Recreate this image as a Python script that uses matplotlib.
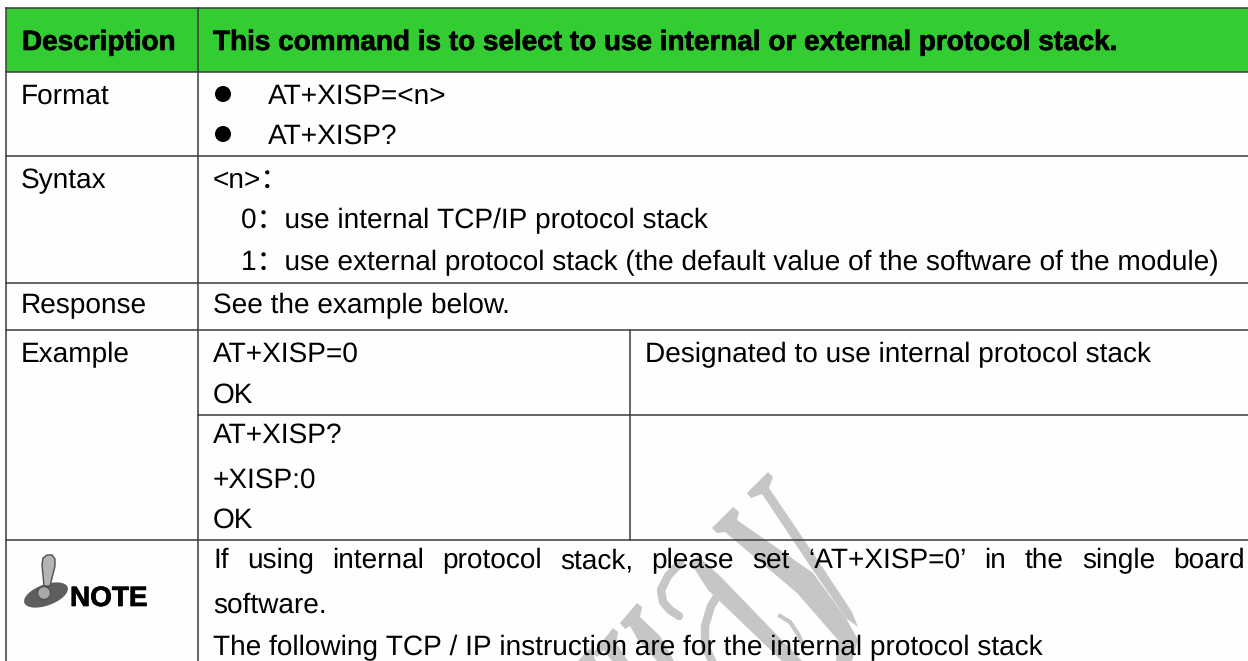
import matplotlib
matplotlib.use("Agg")
import matplotlib.pyplot as plt
import matplotlib.patheffects as pe
from matplotlib.patches import Ellipse, Circle, Polygon

plt.rcParams['font.family'] = ['Liberation Sans', 'Noto Sans CJK SC', 'DejaVu Sans']
plt.rcParams['text.hinting'] = 'no_hinting'
plt.rcParams['text.hinting_factor'] = 1

# table text
header_left = "Description"
header_right = "This command is to select to use internal or external protocol stack."
row_labels = ["Format", "Syntax", "Response", "Example"]
format_lines = ["AT+XISP=<n>", "AT+XISP?"]
syntax_lines = ["<n>：", "0：use internal TCP/IP protocol stack",
                "1：use external protocol stack (the default value of the software of the module)"]
response_line = "See the example below."
example_left = ["AT+XISP=0", "OK", "AT+XISP?", "+XISP:0", "OK"]
example_right = "Designated to use internal protocol stack"
note_label = "NOTE"
note_justified = "If using internal protocol stack, please set ‘AT+XISP=0’ in the single board"
note_lines = ["software.", "The following TCP / IP instruction are for the internal protocol stack"]

GREEN = '#33CC33'
LINE = '#3C3C3C'
WM = '#C6C6C6'
FS = 20.1

fig = plt.figure(figsize=(12.48, 6.61), dpi=100, facecolor='#FEFEFE')
ax = fig.add_axes([0, 0, 1, 1])
ax.set_xlim(0, 1248)
ax.set_ylim(661, 0)
ax.axis('off')


def txt(x, y, s, **kw):
    return ax.text(x, y, s, fontsize=kw.pop('fontsize', FS), va='baseline', ha='left',
                   color='black', zorder=5, **kw)


# green header
ax.fill_between([5.5, 1248], 8, 71.5, color=GREEN, lw=0, zorder=1)

# watermark strokes, traced by hand
wm_polys = [
    # right V, thin stroke and serif
    [(747, 493), (768, 472), (773, 477), (769, 488), (815, 556), (852, 612), (858, 627), (846, 618),
     (810, 566), (762, 494), (751, 498)],
    # right V, thick stroke and serif
    [(712, 528), (733, 507), (739, 512), (737, 520), (813, 573), (846, 618), (858, 640), (852, 661),
     (836, 661), (838, 640), (797, 593), (725, 532), (717, 533)],
    # middle stroke
    [(690, 562), (698, 556), (722, 578), (802, 661), (782, 661), (708, 590)],
    # left serif and stroke
    [(620, 623), (637, 603), (642, 607), (640, 617), (660, 636), (674, 661), (657, 661), (638, 640), (630, 626), (625, 629)],
    [(593, 653), (613, 628), (618, 632), (616, 643), (628, 661), (612, 661), (604, 650), (597, 657)],
    [(578, 661), (590, 648), (596, 661)],
]
for p in wm_polys:
    ax.add_patch(Polygon(p, closed=True, fc=WM, ec='none', zorder=2))

# curved strokes of the watermark
ax.plot([680, 668, 661, 663, 670, 679], [563, 576, 590, 602, 610, 616], color=WM, lw=6, zorder=2,
        solid_capstyle='round')
ax.plot([721, 711, 705, 705, 712], [590, 606, 626, 646, 661], color=WM, lw=6, zorder=2)
ax.plot([780, 790, 798, 803], [616, 622, 634, 645], color=WM, lw=3, zorder=2)

# grid lines
for y, x0 in [(8, 5.5), (71.5, 5.5), (156, 5.5), (282.5, 5.5), (330, 5.5), (414.6, 197.5), (540, 5.5)]:
    ax.plot([x0, 1248], [y, y], color=LINE, lw=1.1, zorder=3)
ax.plot([5.5, 5.5], [8, 661], color=LINE, lw=1.1, zorder=3)
ax.plot([197.5, 197.5], [8, 661], color=LINE, lw=1.1, zorder=3)
ax.plot([630, 630], [330, 540], color=LINE, lw=1.1, zorder=3)

# header text, smeared bold like the original
smear = [pe.withStroke(linewidth=0.5, foreground='black')]
txt(22, 50, header_left, fontweight='bold', path_effects=smear)
txt(213, 50, header_right, fontweight='bold', path_effects=smear)

# left column
for s, y in zip(row_labels, [104, 188, 313, 362]):
    txt(21, y, s)

# format row
for s, y in zip(format_lines, [104, 144]):
    ax.add_patch(Circle((223, y - 10), 8, fc='black', ec='none', zorder=5))
    txt(268, y, s)

# syntax row
for s, x, y in zip(syntax_lines, [213, 241, 241], [188, 228, 270]):
    txt(x, y, s)

txt(213, 313, response_line)

# example rows
for s, y in zip(example_left, [362, 403, 443, 488, 528]):
    txt(213, y, s)
txt(645, 362, example_right)

# justified first line of the note
words = note_justified.split(' ')
r = fig.canvas.get_renderer()
tmp = [txt(0, 568, w) for w in words]
widths = [t.get_window_extent(r).width for t in tmp]
gap = (1245 - 213 - sum(widths)) / (len(words) - 1)
x = 213
for t, w in zip(tmp, widths):
    t.set_x(x)
    x += w + gap

txt(213, 613, note_lines[0])
txt(213, 655, note_lines[1])

# note icon
ax.add_patch(Ellipse((46, 595), 46, 21, angle=-20, fc='#5E5E5E', ec='none', zorder=4))
ax.add_patch(Polygon([(42, 565), (43, 558), (47, 555), (52, 555), (55, 559), (55, 566), (50, 586), (44, 586)],
                     closed=True, fc='#B4B4B4', ec='#505050', lw=1, zorder=5))
ax.add_patch(Circle((44, 593), 6.5, fc='#A8A8A8', ec='#505050', lw=1, zorder=5))
txt(70, 606, note_label, fontweight='bold', path_effects=smear)

fig.savefig('out.png', dpi=100, facecolor=fig.get_facecolor())
